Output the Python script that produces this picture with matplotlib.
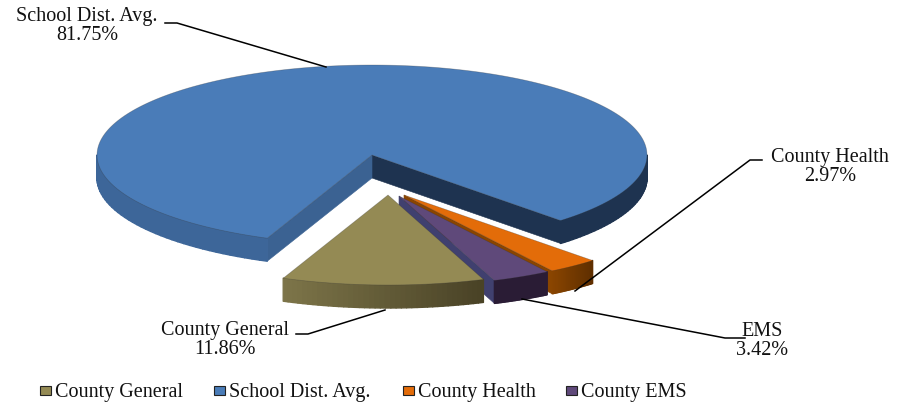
import numpy as np
import matplotlib
matplotlib.use('Agg')
import matplotlib.pyplot as plt
from matplotlib.colors import to_rgb
from matplotlib.patches import Polygon, Rectangle

plt.rcParams['font.family'] = ['Liberation Serif', 'DejaVu Serif']

# tax share per district, clockwise from the olive slice
names = ['County General', 'School Dist. Avg.', 'County Health', 'County EMS']
shares = [11.86, 81.75, 2.97, 3.42]
top_colors = ['#948a54', '#4a7cb8', '#e36c09', '#5f497a']
cut_colors = ['#5c5432', '#3b6292', '#8a4500', '#40406f']
wall_left = ['#7d7549', '#3d6699', '#8a4500', '#2a1c35']
wall_right = ['#494226', '#1e3350', '#5f2f00', '#2a1c35']

START = 290.3
RX, RY, DEPTH = 275, 90, 23
# pixel position of each slice apex
apex = [(388, 195), (372, 155), (404, 195), (399, 196)]

fig = plt.figure(figsize=(8.98, 4.05), dpi=100)
ax = fig.add_axes([0, 0, 1, 1])
ax.set_xlim(0, 898)
ax.set_ylim(405, 0)
ax.axis('off')


def rim(c, a):
    a = np.radians(a)
    return np.column_stack([c[0] + RX * np.cos(a), c[1] - RY * np.sin(a)])


def mix(c1, c2, t):
    return tuple((1 - t) * np.array(to_rgb(c1)) + t * np.array(to_rgb(c2)))


def draw_wall(c, a1, a2, left, right, x0, x1):
    # outer rim as thin strips so the shade can change along it
    steps = np.linspace(a1, a2, 40)
    for s, e in zip(steps[:-1], steps[1:]):
        p = rim(c, np.array([s, e]))
        t = np.clip((p[:, 0].mean() - x0) / (x1 - x0), 0, 1)
        col = mix(left, right, t)
        quad = [p[0], p[1], p[1] + [0, DEPTH], p[0] + [0, DEPTH]]
        ax.add_patch(Polygon(quad, fc=col, ec=col, lw=1.0, joinstyle='round'))


def draw_cut(c, a, color):
    p = rim(c, np.array([a]))[0]
    quad = [c, p, p + [0, DEPTH], np.array(c) + [0, DEPTH]]
    ax.add_patch(Polygon(quad, fc=color, ec=color, lw=0.4))


def draw_slice(i, a1, a2):
    # a1 > a2, clockwise sweep
    c = apex[i]
    lo, hi = a2, a1
    edge = rim(c, np.linspace(a1, a2, 120))[:, 0]
    # only the lower half of the ellipse shows its rim
    for k in range(-1, 2):
        s = max(lo, 180 + 360 * k)
        e = min(hi, 360 + 360 * k)
        if s < e:
            if i == 1:
                # school slice: lit on the left, in shadow on the right
                shade = wall_left[i] if k == 0 else wall_right[i]
                draw_wall(c, s, e, shade, shade, edge.min(), edge.max())
            else:
                draw_wall(c, s, e, wall_left[i], wall_right[i], edge.min(), edge.max())
    pts = rim(c, np.linspace(a1, a2, 240))
    ax.add_patch(Polygon(np.vstack([[c], pts]), fc=top_colors[i], ec='#33333355', lw=0.5))


sweeps = np.array(shares) * 3.6
ends = START - np.cumsum(sweeps)
starts = ends + sweeps

# back to front: school slice, then the pulled out wedges
draw_cut(apex[1], ends[1], wall_right[1])
draw_cut(apex[1], starts[1], cut_colors[1])
draw_slice(1, starts[1], ends[1])
draw_cut(apex[2], starts[2] - sweeps[2], cut_colors[2])
draw_slice(2, starts[2], ends[2])
draw_cut(apex[3], ends[3], cut_colors[3])
draw_slice(3, starts[3], ends[3])
draw_slice(0, starts[0], ends[0])

# data labels with leader lines
labels = [
    ('County General\n11.86%', 225, 340),
    ('School Dist. Avg.\n81.75%', 87, 26),
    ('County Health\n2.97%', 830, 167),
    ('EMS\n3.42%', 762, 341),
]
leaders = [
    ([296, 308, 385], [334, 334, 310]),
    ([165, 177, 326], [23, 23, 67]),
    ([762, 750, 575], [160, 160, 291]),
    ([745, 725, 522], [338, 338, 299]),
]
for (txt, x, y), (lx, ly) in zip(labels, leaders):
    ax.plot(lx, ly, color='black', lw=1.1)
    ax.text(x, y, txt, ha='center', va='center', fontsize=14.5, linespacing=0.98, color='#111111')

# legend row
swatch_x = [40, 214, 403, 566]
for i, name in enumerate(names):
    ax.add_patch(Rectangle((swatch_x[i], 386), 11, 9, fc=top_colors[i], ec='#222222', lw=0.8))
    ax.text(swatch_x[i] + 15, 393, name, ha='left', va='center', fontsize=14.5, color='#111111')

fig.savefig('out.png', dpi=100)
